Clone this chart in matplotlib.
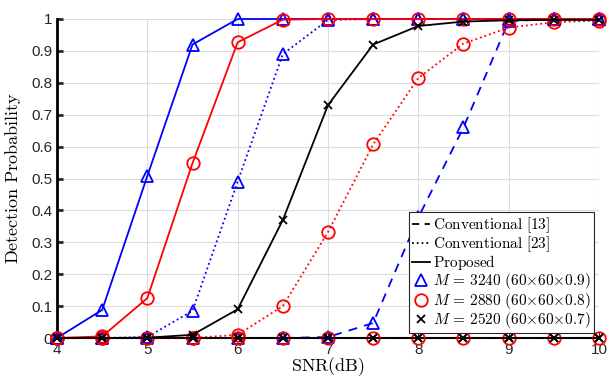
import matplotlib
matplotlib.use("Agg")
from matplotlib import pyplot as plt
from matplotlib.lines import Line2D
import numpy as np

snr = [4, 4.5, 5, 5.5, 6, 6.5, 7, 7.5, 8, 8.5, 9, 9.5, 10]

# Proposed
prop_3240 = [0, 0.088, 0.508, 0.92, 1.0, 1.0, 1.0, 1.0, 1.0, 1.0, 1.0, 1.0, 1.0]
prop_2880 = [0, 0.005, 0.125, 0.548, 0.927, 0.998, 1.0, 1.0, 1.0, 1.0, 1.0, 1.0, 1.0]
prop_2520 = [0, 0, 0.001, 0.01, 0.09, 0.37, 0.73, 0.92, 0.978, 0.992, 0.996, 0.997, 0.997]

# Conventional [23]
c23_3240 = [0, 0, 0.003, 0.085, 0.49, 0.89, 0.997, 1.0, 1.0, 1.0, 1.0, 1.0, 1.0]
c23_2880 = [0, 0, 0, 0, 0.01, 0.1, 0.332, 0.607, 0.815, 0.923, 0.973, 0.99, 0.995]
c23_2520 = [0, 0, 0, 0, 0, 0, 0, 0, 0, 0, 0, 0, 0]

# Conventional [13]
c13_3240 = [0, 0, 0, 0, 0, 0, 0.003, 0.047, 0.378, 0.66, 0.993, 1.0, 1.0]
c13_2880 = [0, 0, 0, 0, 0, 0, 0, 0, 0, 0, 0, 0, 0]
c13_2520 = [0, 0, 0, 0, 0, 0, 0, 0, 0, 0, 0, 0, 0]

plt.rcParams["font.family"] = ["Liberation Sans", "DejaVu Sans"]
plt.rcParams["mathtext.fontset"] = "cm"

fig = plt.figure(figsize=(6.07, 3.77), dpi=100)
ax = fig.add_axes([57 / 607, 1 - 338 / 377, 542 / 607, 319 / 377])

styles = {"blue": ("^", 9), "red": ("o", 9), "black": ("x", 6)}
series = [
    (c13_3240, "blue", (0, (5, 4))),
    (c13_2880, "red", (0, (5, 4))),
    (c13_2520, "black", (0, (5, 4))),
    (c23_3240, "blue", ":"),
    (c23_2880, "red", ":"),
    (c23_2520, "black", ":"),
    (prop_3240, "blue", "-"),
    (prop_2880, "red", "-"),
    (prop_2520, "black", "-"),
]
for vals, col, ls in series:
    m, ms = styles[col]
    ax.plot(snr, vals, color=col, linestyle=ls, linewidth=1.3, marker=m,
            markersize=ms, markerfacecolor="none", markeredgewidth=1.3,
            clip_on=False, zorder=3)

ax.set_xlim(4, 10)
ax.set_ylim(0, 1)
ax.set_xticks(np.arange(4, 11, 1))
ax.set_yticks(np.arange(0, 1.01, 0.1))
ax.set_yticklabels(["0", "0.1", "0.2", "0.3", "0.4", "0.5", "0.6", "0.7",
                    "0.8", "0.9", "1"])
ax.grid(True, color="#dcdcdc", linewidth=0.8)
ax.set_axisbelow(True)
for s in ["top", "right"]:
    ax.spines[s].set_visible(False)
ax.spines["left"].set_linewidth(2)
ax.spines["bottom"].set_linewidth(1.5)
ax.tick_params(direction="in", labelsize=11, colors="#262626", length=4)
ax.tick_params(axis="y", width=2)

ax.set_xlabel(r"$\mathrm{SNR(dB)}$", fontsize=13, labelpad=-1)
ax.set_ylabel(r"$\mathrm{Detection\ Probability}$", fontsize=13, labelpad=6)

handles = [
    Line2D([], [], color="black", linestyle=(0, (4, 3)), linewidth=1.3),
    Line2D([], [], color="black", linestyle=":", linewidth=1.3),
    Line2D([], [], color="black", linestyle="-", linewidth=1.3),
    Line2D([], [], color="blue", linestyle="none", marker="^", markersize=9,
           markerfacecolor="none", markeredgewidth=1.3),
    Line2D([], [], color="red", linestyle="none", marker="o", markersize=9,
           markerfacecolor="none", markeredgewidth=1.3),
    Line2D([], [], color="black", linestyle="none", marker="x", markersize=6,
           markeredgewidth=1.3),
]
labels = [
    r"$\mathrm{Conventional\ [13]}$",
    r"$\mathrm{Conventional\ [23]}$",
    r"$\mathrm{Proposed}$",
    r"$M\,=\,3240\ \mathrm{(60{\times}60{\times}0.9)}$",
    r"$M\,=\,2880\ \mathrm{(60{\times}60{\times}0.8)}$",
    r"$M\,=\,2520\ \mathrm{(60{\times}60{\times}0.7)}$",
]
leg = ax.legend(handles, labels, loc="lower right",
                bbox_to_anchor=(0.99, 0.015), fontsize=11, handlelength=1.2,
                handletextpad=0.15, borderpad=0.2, labelspacing=-0.04,
                handleheight=0.6, fancybox=False, framealpha=1,
                edgecolor="#262626", borderaxespad=0)
leg.get_frame().set_linewidth(0.8)
leg.set_zorder(5)

fig.savefig("out.png", dpi=100)
